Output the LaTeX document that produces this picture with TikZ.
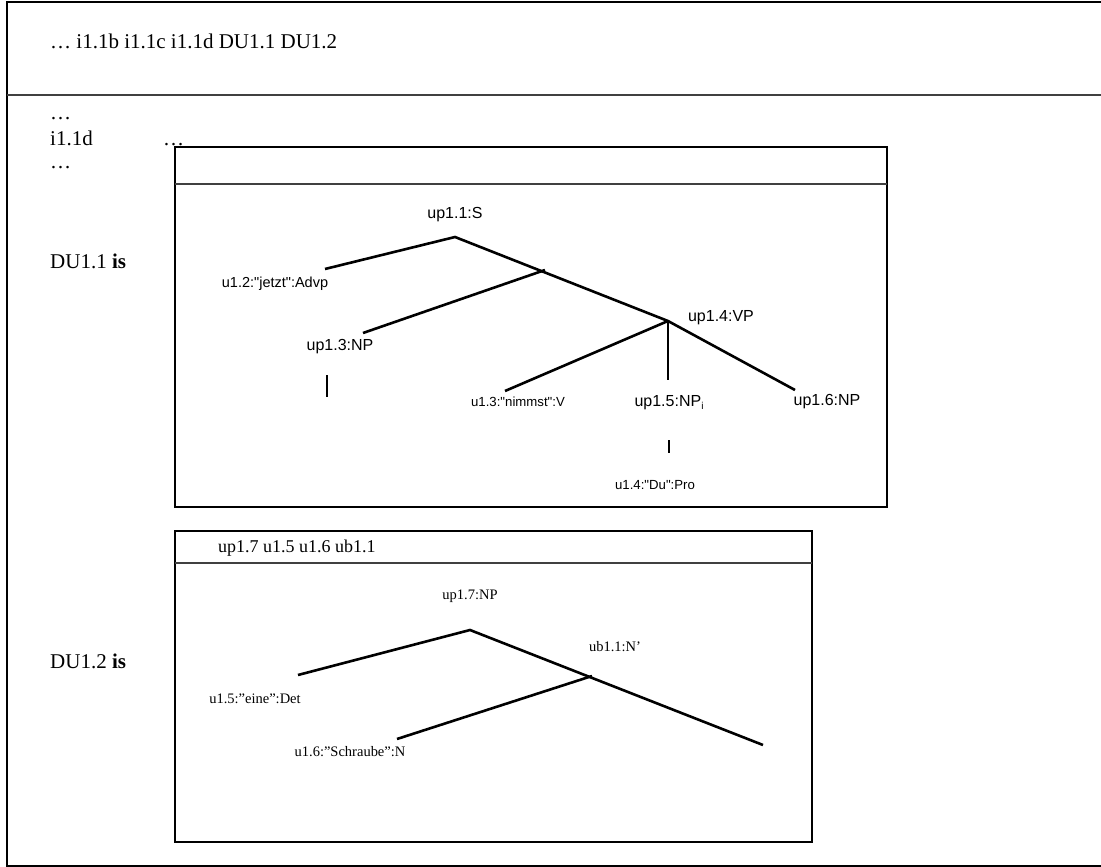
\documentclass[tikz,border=0pt]{standalone}
\usepackage{fontspec}
\setmainfont{Liberation Serif}
\newfontfamily\arialf{Liberation Sans}
\begin{document}
\begin{tikzpicture}[x=1pt,y=-1pt,
  frame/.style={line width=1.8pt},
  sep/.style={line width=1.8pt, draw=black!75},
  branch/.style={line width=2.6pt},
  serif/.style={inner sep=0pt, font=\fontsize{21}{24}\selectfont},
  sbig/.style={inner sep=0pt, font=\arialf\fontsize{16}{18}\selectfont},
  smid/.style={inner sep=0pt, font=\arialf\fontsize{14.5}{17}\selectfont},
  ssmall/.style={inner sep=0pt, font=\arialf\fontsize{13.2}{15}\selectfont},
  tlab/.style={inner sep=0pt, font=\fontsize{14.5}{17}\selectfont},
  thead/.style={inner sep=0pt, font=\fontsize{18}{21}\selectfont}]
\useasboundingbox (0,0) rectangle (1101,867);
% outer frame
\draw[frame] (1101,2) -- (7,2) -- (7,866) -- (1101,866);
\draw[sep] (7,95) -- (1101,95);
\node[serif, anchor=base west] (top) at (50,49) {\dots\ i1.1b i1.1c i1.1d DU1.1 DU1.2};
\node[serif, anchor=base west] (d1) at (50,120) {\dots};
\node[serif, anchor=base west] (i11d) at (50,145) {i1.1d};
\node[serif, anchor=base west] (d2) at (163,145) {\dots};
\node[serif, anchor=base west] (d3) at (50,168) {\dots};
\node[serif, anchor=base west] (du11) at (50,268) {DU1.1 \textbf{is}};
\node[serif, anchor=base west] (du12) at (50,668) {DU1.2 \textbf{is}};
% box 1
\draw[frame, fill=white] (175,147) rectangle (887,507);
\draw[sep] (175,184) -- (887,184);
\node[sbig] (S) at (455,215) {up1.1:S};
\coordinate (sA) at (455,237);
\coordinate (sB) at (545,270);
\coordinate (vp) at (668,321);
\coordinate (advE) at (325,269);
\coordinate (np3E) at (363,333);
\coordinate (vE) at (505,391);
\coordinate (npiE) at (668,380);
\coordinate (np6E) at (795,390);
\node[smid] (adv) at (275,284) {u1.2:"jetzt":Advp};
\node[sbig] (np3) at (340,347) {up1.3:NP};
\node[sbig] (VP) at (721,318) {up1.4:VP};
\node[ssmall] (V) at (518,402) {u1.3:"nimmst":V};
\node[sbig] (npi) at (669,403) {up1.5:NP\raisebox{-0.35ex}{\fontsize{10}{12}\selectfont i}};
\node[sbig] (np6) at (827,402) {up1.6:NP};
\node[ssmall] (pro) at (655,485) {u1.4:"Du":Pro};
\coordinate (b1t) at (327,375);
\coordinate (b1b) at (327,397);
\coordinate (b2t) at (669,440);
\coordinate (b2b) at (669,453);
\draw[branch] (advE) -- (sA) -- (vp) -- (np6E);
\draw[branch] (sB) -- (np3E);
\draw[branch] (vp) -- (vE);
\draw[branch] (vp) -- (npiE);
\draw[branch] (b1t) -- (b1b);
\draw[branch] (b2t) -- (b2b);
% box 2
\draw[frame, fill=white] (175,531) rectangle (812,842);
\draw[sep] (175,563) -- (812,563);
\node[thead, anchor=base west] (hd) at (218,552) {up1.7 u1.5 u1.6 ub1.1};
\node[tlab] (np7) at (470,596) {up1.7:NP};
\node[tlab] (nb) at (615,647) {ub1.1:N’};
\node[tlab] (det) at (255,699) {u1.5:”eine”:Det};
\node[tlab] (nn) at (350,752) {u1.6:”Schraube”:N};
\coordinate (tA) at (470,630);
\coordinate (tB) at (592,676);
\coordinate (detE) at (298,675);
\coordinate (rE) at (763,745);
\coordinate (nE) at (397,739);
\draw[branch] (detE) -- (tA) -- (rE);
\draw[branch] (tB) -- (nE);
\end{tikzpicture}
\end{document}
